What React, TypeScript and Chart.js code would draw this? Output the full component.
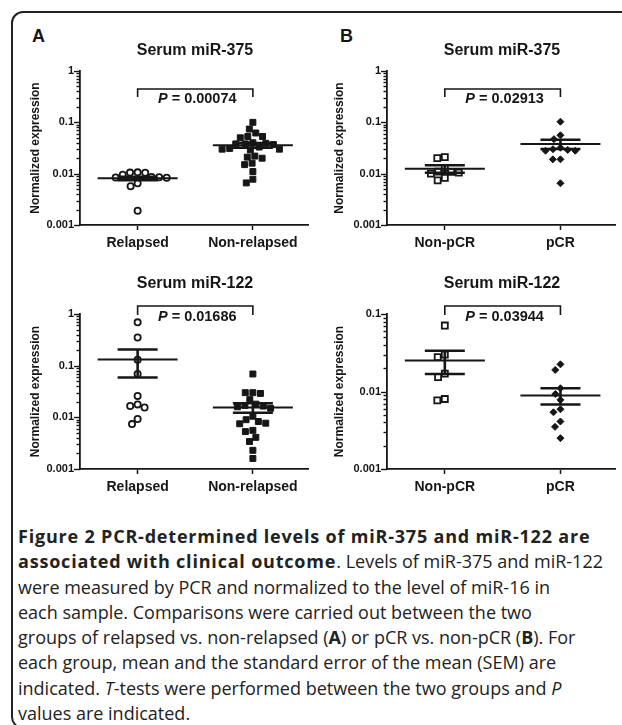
import React, { useEffect, useRef } from 'react';
import { Chart, registerables } from 'chart.js';

Chart.register(...registerables);

const FONT = '"Liberation Sans", Arial, Helvetica, sans-serif';
const INK = '#161616';

// ---------- data ----------
const groupsA = ['Relapsed', 'Non-relapsed'];
const groupsB = ['Non-pCR', 'pCR'];
const yAxisTitle = 'Normalized expression';
const ticks3 = ['0.001', '0.01', '0.1', '1'];
const ticks2 = ['0.001', '0.01', '0.1'];

const a375Relapsed = [0.0106, 0.0105, 0.0104, 0.0095, 0.0086, 0.0085, 0.0084, 0.0083, 0.0065, 0.0057, 0.0019];
const a375NonRelapsed = [0.1, 0.074, 0.062, 0.05, 0.053, 0.053, 0.04, 0.039, 0.038, 0.038, 0.037, 0.033, 0.031, 0.03, 0.03, 0.029, 0.022, 0.021, 0.02, 0.016, 0.015, 0.011, 0.0078, 0.0066];
const a375Mean = [0.0081, 0.0357];
const a375Sem = [0.0006, 0.0038];
const a375P = '0.00074';

const b375NonPcr = [0.021, 0.02, 0.013, 0.011, 0.0108, 0.0105, 0.01, 0.0083, 0.0074];
const b375Pcr = [0.103, 0.056, 0.047, 0.032, 0.03, 0.029, 0.028, 0.028, 0.019, 0.019, 0.0065];
const b375Mean = [0.0125, 0.038];
const b375Sem = [0.0021, 0.0078];
const b375P = '0.02913';

const a122Relapsed = [0.69, 0.35, 0.13, 0.069, 0.026, 0.0178, 0.0166, 0.0155, 0.0093, 0.0074];
const a122NonRelapsed = [0.069, 0.03, 0.03, 0.029, 0.022, 0.018, 0.017, 0.0165, 0.016, 0.015, 0.0105, 0.009, 0.0083, 0.0077, 0.0075, 0.0056, 0.0053, 0.0041, 0.0034, 0.0023, 0.0016];
const a122Mean = [0.132, 0.0155];
const a122Sem = [0.073, 0.0032];
const a122P = '0.01686';

const b122NonPcr = [0.071, 0.03, 0.0277, 0.017, 0.0153, 0.008, 0.0077];
const b122Pcr = [0.0224, 0.019, 0.011, 0.0093, 0.0078, 0.0059, 0.0054, 0.0041, 0.0035, 0.0025];
const b122Mean = [0.0252, 0.0089];
const b122Sem = [0.0084, 0.0021];
const b122P = '0.03944';

// ---------- marker styles ----------
type MarkerKind = 'circleOpen' | 'squareFilled' | 'squareOpen' | 'diamondFilled';
function markerStyle(kind: MarkerKind) {
  switch (kind) {
    case 'circleOpen':
      return { pointStyle: 'circle', pointRadius: 3.1, pointBackgroundColor: '#fff', pointBorderColor: INK, pointBorderWidth: 1.8 };
    case 'squareFilled':
      return { pointStyle: 'rect', pointRadius: 4.2, pointBackgroundColor: INK, pointBorderColor: INK, pointBorderWidth: 1 };
    case 'squareOpen':
      return { pointStyle: 'rect', pointRadius: 4.25, pointBackgroundColor: '#fff', pointBorderColor: INK, pointBorderWidth: 1.8 };
    default:
      return { pointStyle: 'rectRot', pointRadius: 3.5, pointBackgroundColor: INK, pointBorderColor: INK, pointBorderWidth: 1 };
  }
}

type Spec = {
  title: string; groups: string[]; series: number[][]; means: number[]; sems: number[];
  p: string; yMin: number; yMax: number; yLabels: string[]; markers: MarkerKind[];
  left: number; top: number; width: number; height: number;
  padLeft: number; padTop: number; yWidth: number; xHeight: number;
  titleDy: number; bracketTop: number; bracketLeg: number; pDy: number;
};

function logTicks(min: number, max: number) {
  const out: { value: number; major: boolean }[] = [];
  const e0 = Math.round(Math.log10(min));
  const e1 = Math.round(Math.log10(max));
  for (let e = e0; e <= e1; e++) {
    for (let m = 1; m <= 9; m++) {
      if (e === e1 && m > 1) break;
      out.push({ value: parseFloat((m * Math.pow(10, e)).toPrecision(6)), major: m === 1 });
    }
  }
  return out;
}

function isPow10(v: number) {
  const l = Math.log10(v);
  return Math.abs(l - Math.round(l)) < 1e-7;
}

// beeswarm in pixel space
function swarm(ys: number[], D: number): number[] {
  const order = ys.map((_, i) => i).sort((a, b) => ys[a] - ys[b]);
  const placed: { x: number; y: number }[] = [];
  const out = new Array(ys.length).fill(0);
  for (const i of order) {
    const y = ys[i];
    const iv: [number, number][] = [];
    for (const p of placed) {
      const dy = Math.abs(p.y - y);
      if (dy < D) {
        const w = Math.sqrt(D * D - dy * dy);
        iv.push([p.x - w, p.x + w]);
      }
    }
    const cands = [0];
    iv.forEach(([a, b]) => cands.push(a, b));
    cands.sort((a, b) => Math.abs(a) - Math.abs(b) || a - b);
    let best = 0;
    for (const c of cands) {
      if (iv.every(([a, b]) => c <= a + 1e-6 || c >= b - 1e-6)) { best = c; break; }
    }
    out[i] = best;
    placed.push({ x: best, y });
  }
  return out;
}

function makeDecor(spec: Spec) {
  const line = (ctx: CanvasRenderingContext2D, x0: number, y0: number, x1: number, y1: number) => {
    ctx.beginPath(); ctx.moveTo(x0, y0); ctx.lineTo(x1, y1); ctx.stroke();
  };
  return {
    id: 'decor',
    afterDatasetsDraw(chart: any) {
      const { ctx, scales: { x, y } } = chart;
      ctx.save();
      ctx.strokeStyle = INK;
      spec.means.forEach((m, i) => {
        const cx = x.getPixelForValue(i);
        const my = y.getPixelForValue(m);
        const hi = y.getPixelForValue(m + spec.sems[i]);
        const lo = y.getPixelForValue(m - spec.sems[i]);
        ctx.lineWidth = 2;
        line(ctx, cx - 40, my, cx + 40, my);
        ctx.lineWidth = 2.6;
        line(ctx, cx - 20, hi, cx + 20, hi);
        line(ctx, cx - 20, lo, cx + 20, lo);
        line(ctx, cx, hi, cx, lo);
      });
      ctx.restore();
    },
    afterDraw(chart: any) {
      const { ctx, chartArea: ca, scales: { x, y } } = chart;
      ctx.save();
      ctx.strokeStyle = INK;
      ctx.fillStyle = INK;
      ctx.lineWidth = 1.4;
      y.ticks.forEach((t: any) => {
        const py = Math.round(y.getPixelForValue(t.value)) + 0.5;
        const len = isPow10(t.value) ? 5 : 2.5;
        line(ctx, ca.left - len - 1, py, ca.left, py);
      });
      // title
      ctx.font = `bold 16px ${FONT}`;
      ctx.textAlign = 'center';
      ctx.textBaseline = 'middle';
      ctx.fillText(spec.title, ca.left + 115, ca.top - spec.titleDy);
      // bracket
      const x0 = x.getPixelForValue(0);
      const x1 = x.getPixelForValue(1);
      const by = ca.top + spec.bracketTop;
      ctx.lineWidth = 1.6;
      ctx.beginPath();
      ctx.moveTo(x0, by + spec.bracketLeg);
      ctx.lineTo(x0, by);
      ctx.lineTo(x1, by);
      ctx.lineTo(x1, by + spec.bracketLeg);
      ctx.stroke();
      // P value
      const fItal = `italic bold 14.5px ${FONT}`;
      const fBold = `bold 14.5px ${FONT}`;
      const rest = ' = ' + spec.p;
      ctx.font = fItal; const wP = ctx.measureText('P').width;
      ctx.font = fBold; const wR = ctx.measureText(rest).width;
      const cx = (x0 + x1) / 2 + 2;
      const sx = cx - (wP + wR) / 2;
      const py = ca.top + spec.pDy;
      ctx.textAlign = 'left';
      ctx.font = fItal; ctx.fillText('P', sx, py);
      ctx.font = fBold; ctx.fillText(rest, sx + wP, py);
      ctx.restore();
    },
  };
}

function Panel({ spec }: { spec: Spec }) {
  const ref = useRef<HTMLCanvasElement>(null);
  useEffect(() => {
    if (!ref.current) return;
    const datasets = spec.series.map((vals, gi) => ({
      data: vals.map((v) => ({ x: gi, y: v })),
      showLine: false,
      clip: false as any,
      ...markerStyle(spec.markers[gi]),
    }));
    const chart = new Chart(ref.current, {
      type: 'scatter',
      data: { datasets: datasets as any },
      options: {
        animation: false,
        responsive: false,
        events: [],
        layout: { padding: { left: spec.padLeft, top: spec.padTop, right: 0, bottom: 0 } },
        plugins: { legend: { display: false }, tooltip: { enabled: false }, title: { display: false } },
        scales: {
          x: {
            type: 'linear',
            min: -0.5,
            max: 1.48,
            afterBuildTicks: (s: any) => { s.ticks = spec.groups.map((_, i) => ({ value: i })); },
            afterFit: (s: any) => { s.height = spec.xHeight; },
            grid: { display: true, drawOnChartArea: false, drawTicks: true, tickLength: 5, tickWidth: 1.5, tickColor: INK },
            border: { display: true, color: INK, width: 1.8 },
            ticks: {
              autoSkip: false, maxRotation: 0, padding: 5, color: INK,
              font: { family: FONT, size: 14, weight: 'bold' },
              callback: (v: any) => spec.groups[Math.round(Number(v))] ?? '',
            },
          },
          y: {
            type: 'logarithmic',
            min: spec.yMin,
            max: spec.yMax,
            afterBuildTicks: (s: any) => { s.ticks = logTicks(spec.yMin, spec.yMax); },
            afterFit: (s: any) => { s.width = spec.yWidth; },
            grid: { display: false, drawTicks: false },
            border: { display: true, color: INK, width: 1.8 },
            ticks: {
              autoSkip: false, padding: 6, color: INK,
              font: { family: FONT, size: 11, weight: 'bold' },
              callback: (v: any) => {
                const n = Number(v);
                if (!isPow10(n)) return '';
                const idx = Math.round(Math.log10(n)) - Math.round(Math.log10(spec.yMin));
                return spec.yLabels[idx] ?? '';
              },
            },
            title: {
              display: true, text: yAxisTitle, color: INK, padding: 0,
              font: { family: FONT, size: 12, weight: 'bold' },
            },
          },
        },
      } as any,
      plugins: [makeDecor(spec)],
    });
    const xs: any = chart.scales.x;
    const ys: any = chart.scales.y;
    const ppu = xs.getPixelForValue(1) - xs.getPixelForValue(0);
    chart.data.datasets.forEach((ds: any, gi: number) => {
      const vals = spec.series[gi];
      const py = vals.map((v) => ys.getPixelForValue(v));
      const off = swarm(py, 7.6);
      ds.data = vals.map((v, k) => ({ x: gi + off[k] / ppu, y: v }));
    });
    chart.update('none');
    return () => chart.destroy();
  }, [spec]);
  return (
    <canvas
      ref={ref}
      width={spec.width}
      height={spec.height}
      style={{ position: 'absolute', left: spec.left, top: spec.top, width: spec.width, height: spec.height }}
    />
  );
}

const topRow = { top: 30, height: 225, padTop: 41, xHeight: 30, titleDy: 20, bracketTop: 18, bracketLeg: 8, pDy: 28 };
const botRow = { top: 265, height: 235, padTop: 49, xHeight: 31, titleDy: 30, bracketTop: -8, bracketLeg: 9, pDy: 3 };
const colA = { left: 14, width: 300, padLeft: 14, yWidth: 52 };
const colB = { left: 318, width: 304, padLeft: 14, yWidth: 55 };

const specs: Spec[] = [
  {
    title: 'Serum miR-375', groups: groupsA, series: [a375Relapsed, a375NonRelapsed], means: a375Mean, sems: a375Sem,
    p: a375P, yMin: 0.001, yMax: 1, yLabels: ticks3, markers: ['circleOpen', 'squareFilled'], ...colA, ...topRow,
  },
  {
    title: 'Serum miR-375', groups: groupsB, series: [b375NonPcr, b375Pcr], means: b375Mean, sems: b375Sem,
    p: b375P, yMin: 0.001, yMax: 1, yLabels: ticks3, markers: ['squareOpen', 'diamondFilled'], ...colB, ...topRow,
  },
  {
    title: 'Serum miR-122', groups: groupsA, series: [a122Relapsed, a122NonRelapsed], means: a122Mean, sems: a122Sem,
    p: a122P, yMin: 0.001, yMax: 1, yLabels: ticks3, markers: ['circleOpen', 'squareFilled'], ...colA, ...botRow,
  },
  {
    title: 'Serum miR-122', groups: groupsB, series: [b122NonPcr, b122Pcr], means: b122Mean, sems: b122Sem,
    p: b122P, yMin: 0.001, yMax: 0.1, yLabels: ticks2, markers: ['squareOpen', 'diamondFilled'], ...colB, ...botRow,
  },
];

export default function App() {
  const letter: React.CSSProperties = { position: 'absolute', top: 27, font: `bold 18px/18px ${FONT}`, color: INK };
  const bold: React.CSSProperties = { fontWeight: 700, letterSpacing: '0.8px' };
  return (
    <div style={{ position: 'fixed', left: 0, top: 0, width: 622, height: 725, overflow: 'hidden', background: '#fff' }}>
      <div style={{ position: 'absolute', left: 11, top: 11, width: 720, height: 718, border: '2px solid #222', borderRadius: 12, boxSizing: 'border-box' }} />
      <div style={{ ...letter, left: 32 }}>A</div>
      <div style={{ ...letter, left: 340 }}>B</div>
      {specs.map((s, i) => <Panel key={i} spec={s} />)}
      <div style={{ position: 'absolute', left: 18, top: 524, font: '18px/25.3px "Open Sans", sans-serif', color: '#222', whiteSpace: 'nowrap' }}>
        <span style={bold}>Figure 2 PCR-determined levels of miR-375 and miR-122 are</span><br />
        <span style={bold}>associated with clinical outcome</span>. Levels of miR-375 and miR-122<br />
        were measured by PCR and normalized to the level of miR-16 in<br />
        each sample. Comparisons were carried out between the two<br />
        groups of relapsed vs. non-relapsed (<b>A</b>) or pCR vs. non-pCR (<b>B</b>). For<br />
        each group, mean and the standard error of the mean (SEM) are<br />
        indicated. <i>T</i>-tests were performed between the two groups and <i>P</i><br />
        values are indicated.
      </div>
    </div>
  );
}
